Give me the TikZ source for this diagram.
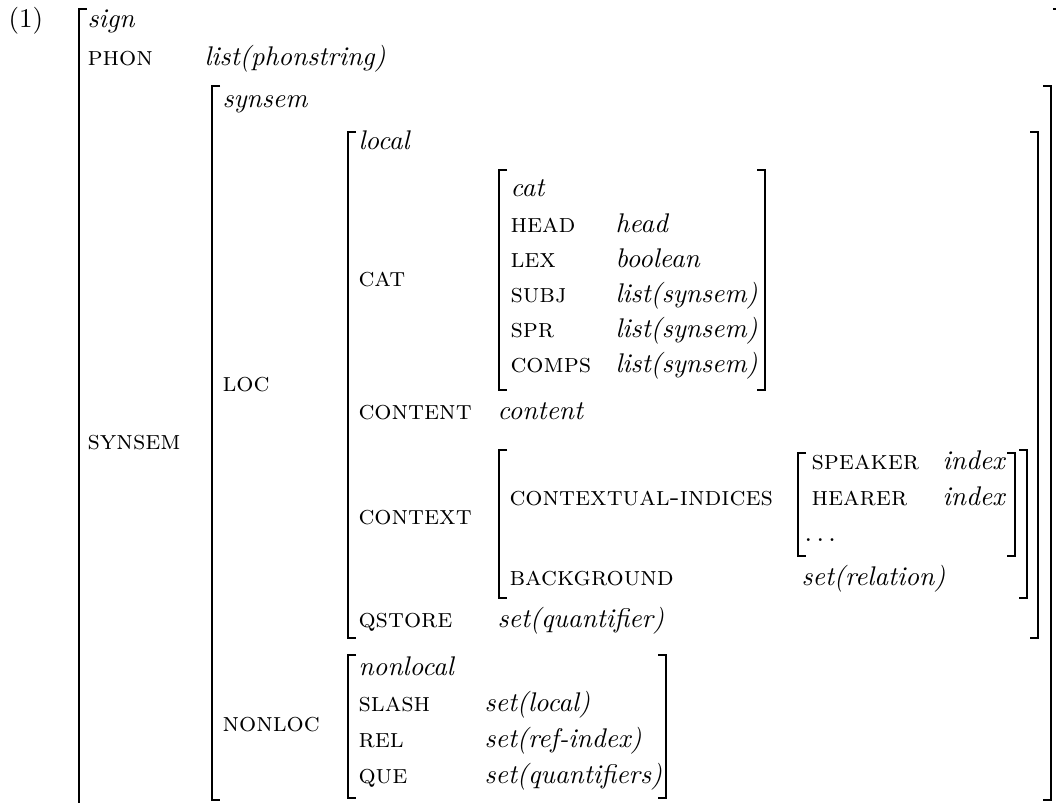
\documentclass[tikz,border=0pt]{standalone}
\newcommand\avmL[3]{\draw[brk] (#1+8,#2) -| (#1,#3) -- (#1+8,#3);}
\newcommand\avmR[3]{\draw[brk] (#1-8,#2) -| (#1,#3) -- (#1-8,#3);}
\begin{document}
\begin{tikzpicture}[x=0.37037pt,y=-0.37037pt,
  attr/.style={anchor=base west,inner sep=0pt,font=\scshape},
  val/.style={anchor=base west,inner sep=0pt,font=\itshape},
  typ/.style={anchor=base west,inner sep=0pt},
  brk/.style={line width=0.6pt,line cap=butt}]
\useasboundingbox (0,0) rectangle (1056,803);
\clip (0,0) rectangle (1056,803);
% example number
\node[typ] (ex) at (8,28) {(1)};
% sign
\node[val] (tsign) at (87,28) {sign};
\node[attr] (aphon) at (87,66) {phon};
\node[val] (vphon) at (204,66) {list(phonstring)};
\node[attr] (asynsem) at (87,450) {synsem};
% synsem
\node[val] (tsynsem) at (222,108) {synsem};
\node[attr] (aloc) at (222,392) {loc};
\node[attr] (anonloc) at (222,732) {nonloc};
% local
\node[val] (tlocal) at (358,150) {local};
\node[attr] (acat) at (358,287) {cat};
\node[attr] (acontent) at (358,420) {content};
\node[val] (vcontent) at (497,420) {content};
\node[attr] (acontext) at (358,525) {context};
\node[attr] (aqstore) at (358,627) {qstore};
\node[val] (vqstore) at (497,627) {set(quantifier)};
% cat
\node[val] (tcat) at (510,197) {cat};
\node[attr] (ahead) at (510,233) {head};
\node[val] (vhead) at (615,233) {head};
\node[attr] (alex) at (510,268) {lex};
\node[val] (vlex) at (615,268) {boolean};
\node[attr] (asubj) at (510,303) {subj};
\node[val] (vsubj) at (615,303) {list(synsem)};
\node[attr] (aspr) at (510,338) {spr};
\node[val] (vspr) at (615,338) {list(synsem)};
\node[attr] (acomps) at (510,373) {comps};
\node[val] (vcomps) at (615,373) {list(synsem)};
% context
\node[attr] (aci) at (509,506) {contextual-indices};
\node[attr] (aspeaker) at (811,470) {speaker};
\node[val] (vspeaker) at (942,470) {index};
\node[attr] (ahearer) at (811,506) {hearer};
\node[val] (vhearer) at (942,506) {index};
\node[typ] (dots) at (804,541) {$\ldots$};
\node[attr] (abg) at (509,585) {background};
\node[val] (vbg) at (801,585) {set(relation)};
% nonlocal
\node[val] (tnonlocal) at (358,676) {nonlocal};
\node[attr] (aslash) at (358,712) {slash};
\node[val] (vslash) at (484,712) {set(local)};
\node[attr] (arel) at (358,748) {rel};
\node[val] (vrel) at (484,748) {set(ref-index)};
\node[attr] (aque) at (358,784) {que};
\node[val] (vque) at (484,784) {set(quantifiers)};
% brackets
\avmL{79}{9}{806}   \avmR{1061}{9}{806}
\avmL{212}{86}{800} \avmR{1051}{86}{800}
\avmL{348}{132}{638} \avmR{1038}{132}{638}
\avmL{499}{170}{390} \avmR{765}{170}{390}
\avmL{499}{450}{598} \avmR{1027}{450}{598}
\avmL{798}{453}{556} \avmR{1015}{453}{556}
\avmL{348}{655}{798} \avmR{666}{655}{798}
\end{tikzpicture}
\end{document}
